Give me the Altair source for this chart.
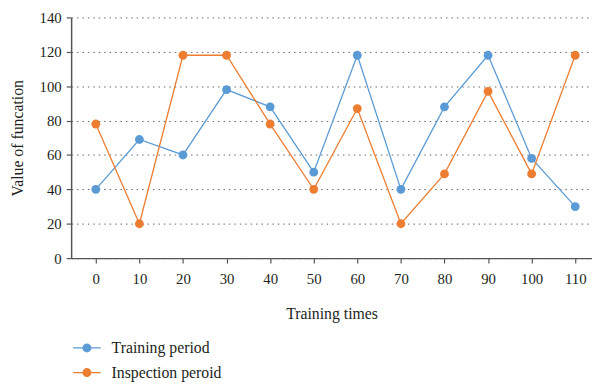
import altair as alt
import pandas as pd

times = [0, 10, 20, 30, 40, 50, 60, 70, 80, 90, 100, 110]
training = [40, 69, 60, 98, 88, 50, 118, 40, 88, 118, 58, 30]
inspection = [78, 20, 118, 118, 78, 40, 87, 20, 49, 97, 49, 118]
series_names = ["Training period", "Inspection peroid"]
series_colors = ["#5B9BD5", "#ED7D31"]
y_ticks = [0, 20, 40, 60, 80, 100, 120, 140]

rows = []
for t, a, b in zip(times, training, inspection):
    rows.append({"times": t, "value": a, "series": series_names[0]})
    rows.append({"times": t, "value": b, "series": series_names[1]})
df = pd.DataFrame(rows)

FONT = "Liberation Serif"
TXT = "#231f20"

x = alt.X("times:Q",
          scale=alt.Scale(domain=[-5.66, 113.85], nice=False, zero=False),
          axis=alt.Axis(values=times, format="d", title="Training times",
                        grid=False, tickSize=5, labelPadding=9, titlePadding=19,
                        domainColor="#555555", domainWidth=1.5,
                        tickColor="#555555", tickWidth=1.2))
y = alt.Y("value:Q",
          scale=alt.Scale(domain=[0, 140], nice=False),
          axis=alt.Axis(values=y_ticks, title="Value of funcation",
                        grid=True, gridDash=[1.5, 4], gridColor="#666666",
                        gridWidth=1, tickSize=5, labelPadding=5, titlePadding=14,
                        domainColor="#555555", domainWidth=1.5,
                        tickColor="#555555", tickWidth=1.2))
color = alt.Color("series:N",
                  scale=alt.Scale(domain=series_names, range=series_colors),
                  sort=series_names,
                  legend=alt.Legend(title=None, orient="none", legendX=1, legendY=320,
                                    direction="vertical",
                                    symbolType="M-1,0L-0.3,0M0.3,0L1,0M-0.28,0A0.28,0.28 0 1,1 0.28,0A0.28,0.28 0 1,1 -0.28,0",
                                    symbolSize=784, symbolStrokeWidth=1.3,
                                    labelOffset=10, rowPadding=2, padding=0))

base = alt.Chart(df)
lines = base.mark_line(strokeWidth=1.3).encode(x=x, y=y, color=color, order="times:Q")
points = base.mark_point(filled=True, size=80, opacity=1).encode(x=x, y=y, color=color)

chart = alt.layer(lines, points).properties(
    width=528, height=244,
    autosize=alt.AutoSizeParams(type="none"),
    padding={"left": 64, "top": 7, "right": 0, "bottom": 123},
).configure(font=FONT).configure_axis(
    labelFont=FONT, titleFont=FONT, labelFontSize=15, titleFontSize=16,
    labelColor=TXT, titleColor=TXT, titleFontWeight="normal",
).configure_legend(
    labelFont=FONT, labelFontSize=16, labelColor=TXT,
).configure_view(stroke=None)

chart.save("out.html", embed_options={"renderer": "svg", "actions": False})
